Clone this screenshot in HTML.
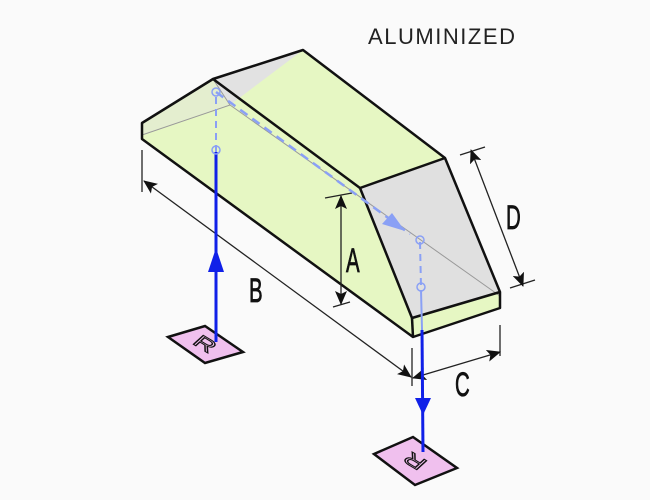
<!DOCTYPE html>
<html><head><style>
html,body{margin:0;padding:0;background:#fafafa;}
svg{display:block;}
.lbl{font-family:"Liberation Sans",sans-serif;font-size:34px;fill:#111;stroke:#111;stroke-width:0.8;}
</style></head><body>
<svg width="650" height="500" viewBox="0 0 650 500" xmlns="http://www.w3.org/2000/svg">
<defs>
<marker id="ab" markerWidth="14" markerHeight="12" refX="13" refY="6" orient="auto-start-reverse" markerUnits="userSpaceOnUse"><path d="M0,0 L14,6 L0,12 L3,6 Z" fill="#111"/></marker>
</defs>
<rect width="650" height="500" fill="#fafafa"/>
<text x="368" y="44" font-family="Liberation Sans,sans-serif" font-size="22" fill="#222" textLength="147">ALUMINIZED</text>
<polygon points="142,123 213,79 303,50 445,158 500,292 500,308 413,337 142,139" fill="#e6f7c3"/>
<polygon points="360,188 445,158 500,292 412,318" fill="#e0e0e0"/>
<polygon points="213,79 303,50 230,105" fill="#e2e2e2"/>
<polygon points="142,123 213,79 230,105 142,135" fill="#e2e2e2"/>
<polygon points="142,123 142,139 230,105 213,79" fill="#e6f7c3" opacity="0.6"/>
<g stroke="#999" stroke-width="1" fill="none">
<polyline points="142,135 230,105 500,296"/>
<line x1="213" y1="79" x2="230" y2="105"/>
</g>
<g stroke="#111" stroke-width="2.5" fill="none" stroke-linejoin="round">
<polygon points="142,123 213,79 303,50 445,158 500,292 500,308 413,337 142,139"/>
<line x1="213" y1="79" x2="360" y2="188"/>
<polyline points="360,188 445,158"/>
<polyline points="360,188 412,318 500,292"/>
<line x1="412" y1="318" x2="413" y2="337"/>
</g>
<g stroke="#222" stroke-width="1.3" fill="none">
<line x1="142" y1="150" x2="142" y2="192"/>
<line x1="412" y1="348" x2="412" y2="386"/>
<line x1="144" y1="181" x2="411" y2="377" marker-start="url(#ab)" marker-end="url(#ab)"/>
<line x1="325" y1="198" x2="352" y2="193"/>
<line x1="333" y1="307" x2="350" y2="302"/>
<line x1="341" y1="196" x2="341" y2="304" marker-start="url(#ab)" marker-end="url(#ab)"/>
<line x1="460" y1="155" x2="485" y2="147"/>
<line x1="510" y1="288" x2="535" y2="280"/>
<line x1="471" y1="150" x2="523" y2="286" marker-start="url(#ab)" marker-end="url(#ab)"/>
<line x1="500" y1="325" x2="500" y2="356"/>
<line x1="413" y1="378" x2="500" y2="352" marker-start="url(#ab)" marker-end="url(#ab)"/>
</g>
<polygon points="168,337 205,326 243,352 205,363" fill="#f0c0ee" stroke="#111" stroke-width="2.5"/>
<text x="0" y="8" text-anchor="middle" font-family="Liberation Sans,sans-serif" font-size="24" fill="none" stroke="#111" stroke-width="1.3" transform="translate(205,344) matrix(1,0.6,-0.6,0.55,0,0)">R</text>
<polygon points="374,454 413,437 457,468 415,485" fill="#f0c0ee" stroke="#111" stroke-width="2.5"/>
<text x="0" y="8" text-anchor="middle" font-family="Liberation Sans,sans-serif" font-size="24" fill="none" stroke="#111" stroke-width="1.3" transform="translate(415,461) rotate(180) matrix(1,0.6,-0.6,0.55,0,0)">R</text>
<g fill="none">
<line x1="216" y1="342" x2="216" y2="152" stroke="#1020e8" stroke-width="3"/>
<line x1="216" y1="152" x2="216" y2="94" stroke="#8aa0f5" stroke-width="2" stroke-dasharray="7,5"/>
<line x1="216" y1="92" x2="410" y2="234" stroke="#8aa0f5" stroke-width="2.5" stroke-dasharray="9,6"/>
<line x1="420" y1="242" x2="421" y2="287" stroke="#8aa0f5" stroke-width="2" stroke-dasharray="7,5"/>
<line x1="421" y1="290" x2="422" y2="330" stroke="#8aa0f5" stroke-width="2"/>
<line x1="422" y1="330" x2="423" y2="452" stroke="#1020e8" stroke-width="3"/>
<circle cx="216" cy="150" r="4" stroke="#8aa0f5" stroke-width="1.5"/>
<circle cx="216" cy="92" r="4" stroke="#8aa0f5" stroke-width="1.5"/>
<circle cx="420" cy="240" r="4" stroke="#8aa0f5" stroke-width="1.5"/>
<circle cx="421" cy="287" r="4" stroke="#8aa0f5" stroke-width="1.5"/>
</g>
<polygon points="216,248 208,272 224,272" fill="#1020e8"/>
<polygon points="423,415 415,398 431,398" fill="#1020e8"/>
<polygon points="405,231 382,224 392,213" fill="#8aa0f5"/>
<text class="lbl" transform="translate(249,302) scale(0.6,1)">B</text>
<text class="lbl" transform="translate(346,272) scale(0.6,1)">A</text>
<text class="lbl" transform="translate(506,229) scale(0.6,1)">D</text>
<text class="lbl" transform="translate(455,396) scale(0.6,1)">C</text>
</svg>
</body></html>
